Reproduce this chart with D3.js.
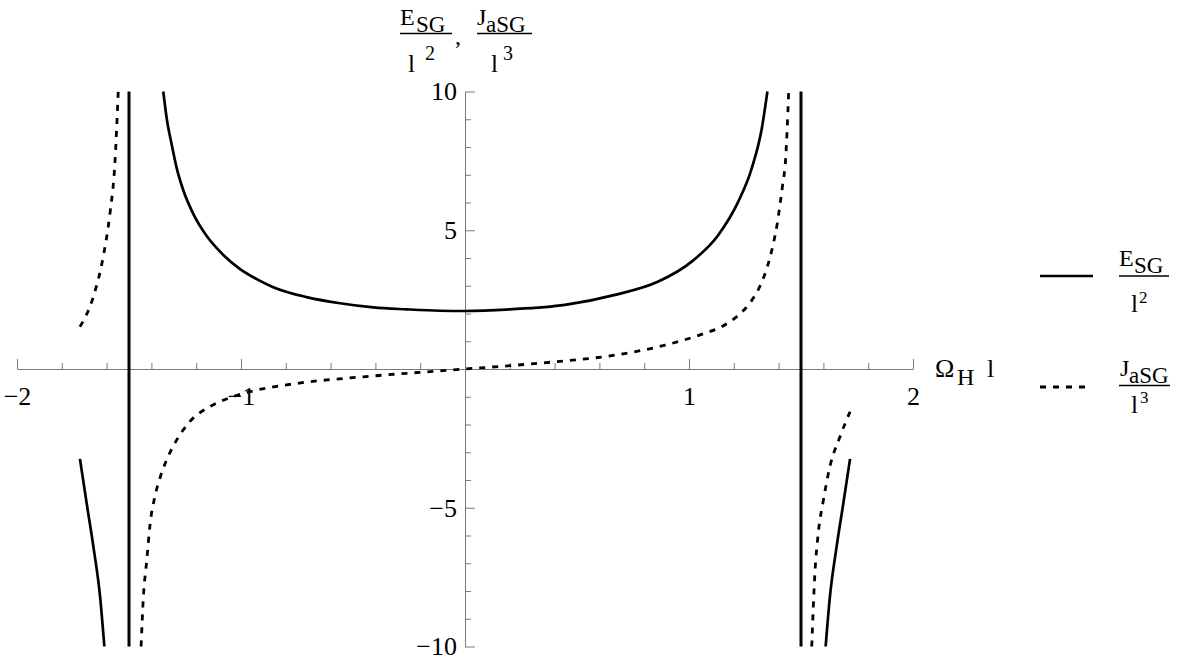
<!DOCTYPE html>
<html>
<head>
<meta charset="utf-8">
<script src="https://cdn.jsdelivr.net/npm/d3@7/dist/d3.min.js"></script>
<style>
  html, body { margin: 0; padding: 0; background: #fff; }
  svg { display: block; }
</style>
</head>
<body>
<svg id="chart" width="1195" height="670"></svg>
<script>
// ---------- data ----------
const xDomain = [-2, 2];
const yDomain = [-10, 10];
const xMajorTicks = [-2, -1, 1, 2];
const xMinorTicks = [-1.8, -1.6, -1.4, -1.2, -0.8, -0.6, -0.4, -0.2, 0.2, 0.4, 0.6, 0.8, 1.2, 1.4, 1.6, 1.8];
const yMajorTicks = [-10, -5, 5, 10];
const yMinorTicks = [-9, -8, -7, -6, -4, -3, -2, -1, 1, 2, 3, 4, 6, 7, 8, 9];
const xTickLabels = ["\u22122", "\u22121", "1", "2"];
const yTickLabels = ["\u221210", "\u22125", "5", "10"];

// E_SG / l^2 (solid)
const eCenterX = [-1.347, -1.332, -1.309, -1.287, -1.258, -1.213, -1.153, -1.079, -1.004, -0.930, -0.856, -0.707, -0.558, -0.409, -0.260, -0.112, 0, 0.2, 0.446, 0.670, 0.863, 1.012, 1.131, 1.220, 1.280, 1.325, 1.350];
const eCenterY = [10, 9.05, 8.07, 7.24, 6.45, 5.59, 4.79, 4.11, 3.60, 3.24, 2.95, 2.59, 2.37, 2.22, 2.15, 2.10, 2.09, 2.15, 2.31, 2.67, 3.15, 3.87, 4.83, 6.03, 7.23, 8.67, 10];
const eLeftX = [-1.719, -1.689, -1.659, -1.629, -1.610];
const eLeftY = [-3.24, -4.84, -6.40, -8.21, -10];
const eRightX = [1.719, 1.689, 1.659, 1.629, 1.610];
const eRightY = [-3.24, -4.84, -6.40, -8.21, -10];

// J_aSG / l^3 (dashed)
const jCenterX = [-1.446, -1.436, -1.421, -1.406, -1.384, -1.362, -1.330, -1.295, -1.228, -1.138, -1.049, -0.930, -0.751, -0.454, -0.201, 0, 0.2, 0.402, 0.670, 0.893, 1.071, 1.147, 1.219, 1.272, 1.317, 1.348, 1.375, 1.393, 1.406, 1.418, 1.431, 1.438, 1.445];
const jCenterY = [-10, -8.24, -6.92, -5.60, -4.58, -3.93, -3.24, -2.67, -1.89, -1.35, -1.03, -0.76, -0.52, -0.28, -0.12, 0, 0.12, 0.26, 0.50, 0.86, 1.29, 1.53, 1.93, 2.38, 2.99, 3.64, 4.47, 5.19, 5.91, 6.63, 7.53, 8.61, 10];
const jLeftX = [-1.719, -1.659, -1.615, -1.585, -1.563, -1.548];
const jLeftY = [1.52, 2.61, 4.05, 5.61, 7.41, 10];
const jRightX = [1.719, 1.674, 1.629, 1.600, 1.577, 1.562, 1.548];
const jRightY = [-1.54, -2.44, -3.52, -4.72, -5.92, -7.36, -10];

// vertical asymptote lines
const asymptotes = [-1.5, 1.5];

// ---------- drawing ----------
const FONT = "'Liberation Serif', 'Times New Roman', serif";
const svg = d3.select("#chart");
svg.append("rect").attr("width", 1195).attr("height", 670).attr("fill", "#fff");

const x = d3.scaleLinear().domain(xDomain).range([17, 913]);
const y = d3.scaleLinear().domain(yDomain).range([646.5, 91.5]);
const axisColor = "#7a7a7a";

function styleAxis(g) {
  g.attr("font-family", FONT).attr("font-size", 26);
  g.selectAll("line").attr("stroke", axisColor).attr("stroke-width", 1);
  g.selectAll("path").attr("stroke", axisColor).attr("stroke-width", 1);
  g.selectAll("text").attr("fill", "#000").style("font-family", FONT).style("font-size", "26px");
}

// x axis
const gx = svg.append("g").attr("transform", `translate(0,${y(0)})`);
gx.call(d3.axisBottom(x).tickValues(xMinorTicks).tickSizeInner(-6).tickSizeOuter(0).tickFormat(""));
gx.call(g => g.select(".domain").remove());
const gxMaj = svg.append("g").attr("transform", `translate(0,${y(0)})`);
gxMaj.call(d3.axisBottom(x).tickValues(xMajorTicks).tickSizeInner(-10).tickSizeOuter(0)
  .tickPadding(18).tickFormat((d, i) => xTickLabels[i]));
styleAxis(gx); styleAxis(gxMaj);

// y axis
const gy = svg.append("g").attr("transform", `translate(${x(0)},0)`);
gy.call(d3.axisLeft(y).tickValues(yMinorTicks).tickSizeInner(-6).tickSizeOuter(0).tickFormat(""));
gy.call(g => g.select(".domain").remove());
const gyMaj = svg.append("g").attr("transform", `translate(${x(0)},0)`);
gyMaj.call(d3.axisLeft(y).tickValues(yMajorTicks).tickSizeInner(-10).tickSizeOuter(0)
  .tickPadding(8).tickFormat((d, i) => yTickLabels[i]));
styleAxis(gy); styleAxis(gyMaj);

// asymptotes
svg.append("g").selectAll("line").data(asymptotes).join("line")
  .attr("x1", d => x(d)).attr("x2", d => x(d))
  .attr("y1", y(10)).attr("y2", y(-10))
  .attr("stroke", "#000").attr("stroke-width", 3);

const line = d3.line().x(d => x(d[0])).y(d => y(d[1])).curve(d3.curveMonotoneX);
const zip = (a, b) => a.map((v, i) => [v, b[i]]).sort((p, q) => p[0] - q[0]);

const solid = [zip(eCenterX, eCenterY), zip(eLeftX, eLeftY), zip(eRightX, eRightY)];
const dashed = [zip(jCenterX, jCenterY), zip(jLeftX, jLeftY), zip(jRightX, jRightY)];

svg.append("g").selectAll("path").data(solid).join("path")
  .attr("d", line).attr("fill", "none").attr("stroke", "#000").attr("stroke-width", 2.7);
svg.append("g").selectAll("path").data(dashed).join("path")
  .attr("d", line).attr("fill", "none").attr("stroke", "#000").attr("stroke-width", 2.8)
  .attr("stroke-dasharray", "6,7");

// ---------- labels ----------
function txt(s, px, py, size) {
  return svg.append("text").attr("x", px).attr("y", py)
    .style("font-family", FONT).style("font-size", size + "px").attr("fill", "#000").text(s);
}
function hbar(x1, x2, yy) {
  svg.append("line").attr("x1", x1).attr("x2", x2).attr("y1", yy).attr("y2", yy)
    .attr("stroke", "#000").attr("stroke-width", 1.5);
}

// top y-axis label: E_SG / l^2 , J_aSG / l^3
txt("E", 400, 25, 24); txt("SG", 416, 32, 23);
hbar(400, 452, 33.5);
txt("l", 408, 72, 25); txt("2", 425, 60, 20);
txt(",", 455, 44, 24);
txt("J", 477, 25, 24); txt("aSG", 486, 32, 23);
hbar(477, 532, 33.5);
txt("l", 491, 72, 25); txt("3", 503, 60, 20);

// x-axis label: Ω_H l
txt("\u03A9", 935, 377, 26); txt("H", 957, 385, 24); txt("l", 987, 377, 26);

// legend
svg.append("line").attr("x1", 1040).attr("x2", 1093).attr("y1", 276).attr("y2", 276)
  .attr("stroke", "#000").attr("stroke-width", 2.7);
txt("E", 1119, 266, 24); txt("SG", 1134, 273, 23);
hbar(1119, 1169, 276);
txt("l", 1131, 312, 25); txt("2", 1139, 303, 17);

svg.append("line").attr("x1", 1040).attr("x2", 1090).attr("y1", 387).attr("y2", 387)
  .attr("stroke", "#000").attr("stroke-width", 2.8).attr("stroke-dasharray", "6,7");
txt("J", 1120, 376, 24); txt("aSG", 1129, 383, 23);
hbar(1119, 1170, 385.5);
txt("l", 1131, 413, 25); txt("3", 1140, 403, 17);
</script>
</body>
</html>
